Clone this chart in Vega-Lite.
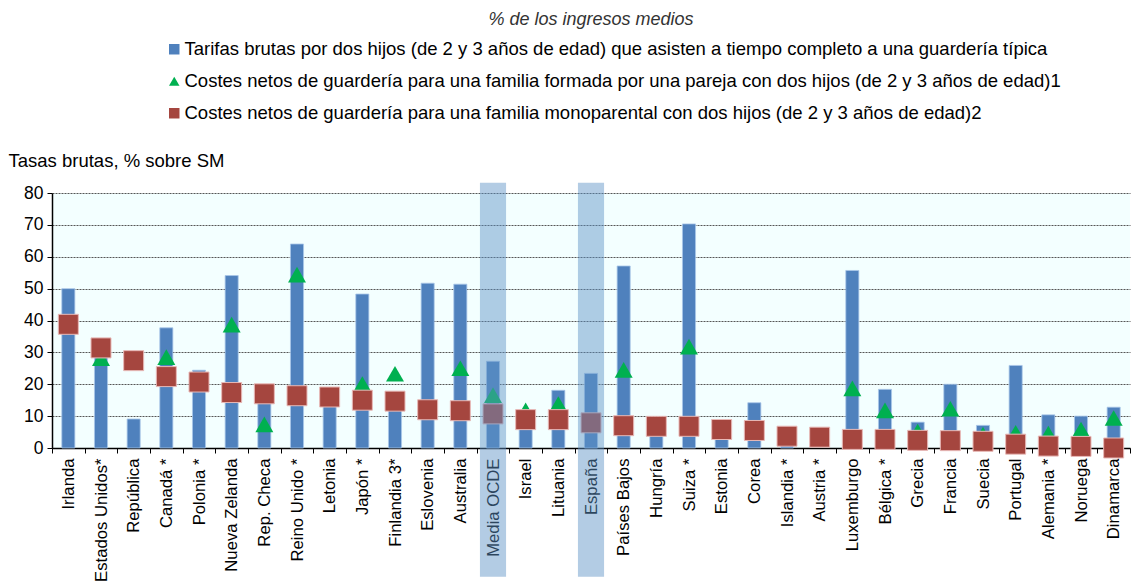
{
  "$schema": "https://vega.github.io/schema/vega-lite/v6.json",
  "width": 1078,
  "height": 255,
  "autosize": {"type": "none"},
  "padding": {"left": 52, "top": 193, "right": 1, "bottom": 138},
  "background": "white",
  "config": {
    "font": "Liberation Sans",
    "view": {"fill": "#f3ffff", "stroke": null}
  },
  "title": {
    "text": "% de los ingresos medios",
    "fontStyle": "italic",
    "fontWeight": "normal",
    "fontSize": 18,
    "color": "#333333",
    "anchor": "middle",
    "frame": "group",
    "offset": 11
  },
  "data": {
    "values": [
      {"pais": "Irlanda", "tarifa": 50.0, "pareja": null, "mono": 38.8},
      {"pais": "Estados Unidos*", "tarifa": 29.5, "pareja": 28.2, "mono": 31.4},
      {"pais": "República", "tarifa": 9.1, "pareja": null, "mono": 27.4},
      {"pais": "Canadá *", "tarifa": 37.7, "pareja": 28.5, "mono": 22.4},
      {"pais": "Polonia *", "tarifa": 24.4, "pareja": null, "mono": 20.7},
      {"pais": "Nueva Zelanda", "tarifa": 54.1, "pareja": 38.7, "mono": 17.4},
      {"pais": "Rep. Checa", "tarifa": 16.0, "pareja": 7.4, "mono": 17.0},
      {"pais": "Reino Unido *", "tarifa": 64.0, "pareja": 54.4, "mono": 16.4},
      {"pais": "Letonia", "tarifa": 14.0, "pareja": null, "mono": 16.0},
      {"pais": "Japón *", "tarifa": 48.3, "pareja": 20.1, "mono": 15.0},
      {"pais": "Finlandia 3*", "tarifa": 13.0, "pareja": 23.3, "mono": 14.7},
      {"pais": "Eslovenia", "tarifa": 51.7, "pareja": null, "mono": 12.0},
      {"pais": "Australia", "tarifa": 51.4, "pareja": 25.0, "mono": 11.7},
      {"pais": "Media OCDE", "tarifa": 27.2, "pareja": 16.6, "mono": 10.7},
      {"pais": "Israel", "tarifa": 11.0, "pareja": 11.8, "mono": 8.9},
      {"pais": "Lituania", "tarifa": 18.1, "pareja": 13.8, "mono": 8.9},
      {"pais": "España", "tarifa": 23.4, "pareja": null, "mono": 7.9},
      {"pais": "Países Bajos", "tarifa": 57.1, "pareja": 24.5, "mono": 7.0},
      {"pais": "Hungría", "tarifa": 6.0, "pareja": null, "mono": 6.8},
      {"pais": "Suiza *", "tarifa": 70.3, "pareja": 31.8, "mono": 6.8},
      {"pais": "Estonia", "tarifa": 5.0, "pareja": null, "mono": 5.8},
      {"pais": "Corea", "tarifa": 14.2, "pareja": null, "mono": 5.5},
      {"pais": "Islandia *", "tarifa": 5.0, "pareja": 4.2, "mono": 3.7},
      {"pais": "Austria *", "tarifa": null, "pareja": null, "mono": 3.4},
      {"pais": "Luxemburgo", "tarifa": 55.7, "pareja": 18.7, "mono": 2.7},
      {"pais": "Bélgica *", "tarifa": 18.4, "pareja": 11.8, "mono": 2.7},
      {"pais": "Grecia", "tarifa": 8.1, "pareja": 5.2, "mono": 2.4},
      {"pais": "Francia", "tarifa": 20.0, "pareja": 12.3, "mono": 2.3},
      {"pais": "Suecia", "tarifa": 7.1, "pareja": 4.2, "mono": 2.1},
      {"pais": "Portugal", "tarifa": 25.9, "pareja": 4.8, "mono": 1.2},
      {"pais": "Alemania *", "tarifa": 10.4, "pareja": 4.5, "mono": 0.6},
      {"pais": "Noruega", "tarifa": 10.0, "pareja": 5.8, "mono": 0.5},
      {"pais": "Dinamarca", "tarifa": 12.8, "pareja": 9.4, "mono": 0.0}
    ]
  },
  "transform": [
    {"fold": ["tarifa", "pareja", "mono"], "as": ["serie", "valor"]},
    {"filter": "datum.valor != null"}
  ],
  "encoding": {
    "x": {
      "field": "pais",
      "type": "nominal",
      "sort": ["Irlanda", "Estados Unidos*", "República", "Canadá *", "Polonia *", "Nueva Zelanda", "Rep. Checa", "Reino Unido *", "Letonia", "Japón *", "Finlandia 3*", "Eslovenia", "Australia", "Media OCDE", "Israel", "Lituania", "España", "Países Bajos", "Hungría", "Suiza *", "Estonia", "Corea", "Islandia *", "Austria *", "Luxemburgo", "Bélgica *", "Grecia", "Francia", "Suecia", "Portugal", "Alemania *", "Noruega", "Dinamarca"],
      "title": null,
      "scale": {"paddingInner": 0, "paddingOuter": 0},
      "axis": {
        "labelAngle": -90,
        "labelAlign": "right",
        "labelBaseline": "middle",
        "labelFontSize": 16.7,
        "labelColor": "#000000",
        "labelPadding": 5,
        "labelLimit": 200,
        "domainColor": "#000000",
        "domainWidth": 1.5,
        "tickColor": "#000000",
        "tickSize": 5,
        "tickBand": "extent",
        "grid": false
      }
    },
    "y": {
      "field": "valor",
      "type": "quantitative",
      "scale": {"domain": [0, 80], "nice": false},
      "axis": {
        "values": [0, 10, 20, 30, 40, 50, 60, 70, 80],
        "labelFontSize": 17.5,
        "labelColor": "#000000",
        "labelPadding": 4,
        "domainColor": "#000000",
        "domainWidth": 1.5,
        "tickColor": "#000000",
        "tickSize": 5,
        "grid": true,
        "gridColor": "#555555",
        "gridDash": [2, 1],
        "gridWidth": 1,
        "title": "Tasas brutas, % sobre SM",
        "titleAngle": 0,
        "titleAlign": "left",
        "titleBaseline": "middle",
        "titleX": -44,
        "titleY": -33,
        "titleFontSize": 18.5,
        "titleFontWeight": "normal",
        "titleColor": "#000000"
      }
    },
    "color": {
      "field": "serie",
      "type": "nominal",
      "scale": {
        "domain": ["tarifa", "pareja", "mono"],
        "range": ["#4f81bd", "#00b050", "#a5463f"]
      },
      "legend": {
        "orient": "none",
        "legendX": 113,
        "legendY": -153,
        "title": null,
        "labelFontSize": 18.5,
        "labelColor": "#000000",
        "symbolSize": 110,
        "symbolStrokeWidth": 0,
        "rowPadding": 13,
        "labelLimit": 1000,
        "labelOffset": 1,
        "labelExpr": "datum.label == 'tarifa' ? 'Tarifas brutas por dos hijos (de 2 y 3 años de edad) que asisten a tiempo completo a una guardería típica' : datum.label == 'pareja' ? 'Costes netos de guardería para una familia formada por una pareja con dos hijos (de 2 y 3 años de edad)1' : 'Costes netos de guardería para una familia monoparental con dos hijos (de 2 y 3 años de edad)2'"
      }
    }
  },
  "layer": [
    {
      "transform": [{"filter": "datum.serie == 'tarifa'"}],
      "mark": {"type": "bar", "width": {"band": 0.4}, "stroke": "#a9c6e8", "strokeWidth": 0.8}
    },
    {
      "transform": [{"filter": "datum.serie != 'tarifa'"}],
      "mark": {"type": "point", "filled": true, "opacity": 1},
      "encoding": {
        "shape": {
          "field": "serie",
          "type": "nominal",
          "scale": {"domain": ["tarifa", "pareja", "mono"], "range": ["square", "triangle-up", "square"]}
        },
        "size": {
          "field": "serie",
          "type": "nominal",
          "scale": {"domain": ["pareja", "mono"], "range": [324, 400]},
          "legend": null
        },
        "stroke": {"value": "#e8b9b7"},
        "strokeWidth": {"condition": {"test": "datum.serie == 'mono'", "value": 1}, "value": 0}
      }
    },
    {
      "transform": [{"filter": "datum.serie == 'mono' && (datum.pais == 'Media OCDE' || datum.pais == 'España')"}],
      "mark": {"type": "rect", "color": "#5e92c5", "opacity": 0.47, "width": {"band": 0.8}},
      "encoding": {
        "y": {"datum": 83.2},
        "y2": {"datum": -40.4},
        "color": {"value": "#5e92c5"}
      }
    }
  ]
}
